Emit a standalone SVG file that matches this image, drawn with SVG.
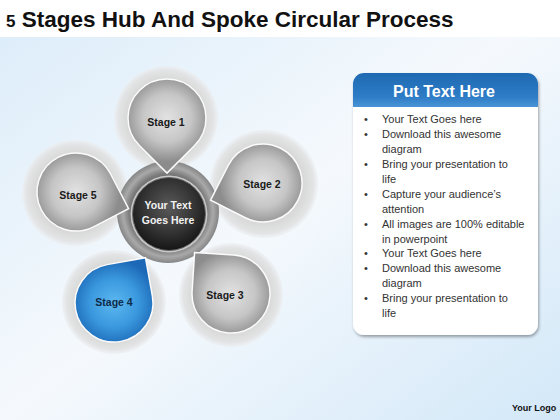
<svg xmlns="http://www.w3.org/2000/svg" width="560" height="420" viewBox="0 0 560 420">
  <defs>
    <linearGradient id="bg" x1="0" y1="0" x2="1" y2="1">
      <stop offset="0" stop-color="#dbecf9"/>
      <stop offset="0.5" stop-color="#f5f9fd"/>
      <stop offset="1" stop-color="#d3e8f8"/>
    </linearGradient>
    <radialGradient id="halo" cx="0.5" cy="0.5" r="0.5">
      <stop offset="0" stop-color="#d4d4d4"/>
      <stop offset="0.75" stop-color="#d9d9d9"/>
      <stop offset="0.92" stop-color="#e3e4e5"/>
      <stop offset="1" stop-color="#eceef0" stop-opacity="0.6"/>
    </radialGradient>
    <radialGradient id="gray" gradientUnits="userSpaceOnUse" cx="0" cy="0" r="44">
      <stop offset="0" stop-color="#e2e2e2"/>
      <stop offset="0.55" stop-color="#c6c6c6"/>
      <stop offset="1" stop-color="#8c8c8c"/>
    </radialGradient>
    <radialGradient id="blue" gradientUnits="userSpaceOnUse" cx="0" cy="0" r="44">
      <stop offset="0" stop-color="#5db8f0"/>
      <stop offset="0.55" stop-color="#3a98de"/>
      <stop offset="1" stop-color="#1c68b6"/>
    </radialGradient>
    <radialGradient id="ring" cx="0.5" cy="0.5" r="0.5">
      <stop offset="0.6" stop-color="#5e5e5e"/>
      <stop offset="0.76" stop-color="#7c7c7c"/>
      <stop offset="0.88" stop-color="#a9a9a9"/>
      <stop offset="1" stop-color="#858585"/>
    </radialGradient>
    <radialGradient id="core" cx="0.5" cy="0.4" r="0.6">
      <stop offset="0" stop-color="#5a5a5a"/>
      <stop offset="0.6" stop-color="#333333"/>
      <stop offset="1" stop-color="#151515"/>
    </radialGradient>
    <linearGradient id="hdr" x1="0" y1="0" x2="0" y2="1">
      <stop offset="0" stop-color="#1e6ab2"/>
      <stop offset="0.7" stop-color="#2d7cc6"/>
      <stop offset="1" stop-color="#4a94d6"/>
    </linearGradient>
    <filter id="shadow" x="-10%" y="-10%" width="120%" height="120%">
      <feDropShadow dx="1" dy="2" stdDeviation="1.5" flood-color="#000" flood-opacity="0.35"/>
    </filter>
    <path id="drop" d="M-39,0 A39,39 0 0 1 0,-39 L39,-39 L39,0 A39,39 0 0 1 0,39 A39,39 0 0 1 -39,0 Z"/>
  </defs>
  <style>
    .title{font-family:"Liberation Sans",Arial,sans-serif;font-weight:bold;font-size:22.5px;fill:#111}
    .lbl{font-family:"Liberation Sans",Arial,sans-serif;font-weight:bold;font-size:10.5px;fill:#1a1a1a;text-anchor:middle}
    .lbl4{fill:#0d2a4a}
    .hub{font-family:"Liberation Sans",Arial,sans-serif;font-weight:bold;font-size:10.5px;fill:#f2f2f2;text-anchor:middle}
    .body{font-family:"Liberation Sans",Arial,sans-serif;font-size:11px;fill:#333}
    .head{font-family:"Liberation Sans",Arial,sans-serif;font-weight:bold;font-size:16px;fill:#fff;text-anchor:middle}
    .logo{font-family:"Liberation Sans",Arial,sans-serif;font-weight:bold;font-size:9px;fill:#111}
    .petal{stroke:#fbfbfb;stroke-width:1.5}
  </style>

  <rect x="0" y="0" width="560" height="420" fill="url(#bg)"/>
  <rect x="0" y="0" width="560" height="37" fill="#ffffff"/>

  <text class="title" x="6" y="27"><tspan font-size="17">5</tspan> Stages Hub And Spoke Circular Process</text>

  <g id="halos">
    <circle cx="166" cy="118" r="52" fill="url(#halo)"/>
    <circle cx="264" cy="184" r="54" fill="url(#halo)"/>
    <circle cx="231" cy="295" r="52" fill="url(#halo)"/>
    <circle cx="114" cy="302" r="52" fill="url(#halo)"/>
    <circle cx="75" cy="193" r="53" fill="url(#halo)"/>
  </g>

  <g id="hub-ring">
    <circle cx="168" cy="212" r="51" fill="url(#ring)"/>
  </g>

  <g id="connectors"/>

  <g id="stage1">
    <use href="#drop" class="petal" fill="url(#gray)" transform="translate(167,118) rotate(135)"/>
    <text class="lbl" x="166" y="126">Stage 1</text>
  </g>
  <g id="stage2">
    <use href="#drop" class="petal" fill="url(#gray)" transform="translate(263,183) rotate(206.9)"/>
    <text class="lbl" x="262" y="188">Stage 2</text>
  </g>
  <g id="stage3">
    <use href="#drop" class="petal" fill="url(#gray)" transform="translate(231,294) rotate(-86.3)"/>
    <text class="lbl" x="225" y="299">Stage 3</text>
  </g>
  <g id="stage4">
    <use href="#drop" class="petal" fill="url(#blue)" transform="translate(114,303) rotate(-10.2)"/>
    <text class="lbl lbl4" x="114" y="306">Stage 4</text>
  </g>
  <g id="stage5">
    <use href="#drop" class="petal" fill="url(#gray)" transform="translate(76,192) rotate(62.5)"/>
    <text class="lbl" x="78" y="199">Stage 5</text>
  </g>

  <g id="hub">
    <circle cx="169" cy="214" r="38.5" fill="#c9c9c9"/>
    <circle cx="169" cy="214" r="36.5" fill="url(#core)" stroke="#6a6a6a" stroke-width="1"/>
    <text class="hub" x="168" y="209">Your Text</text>
    <text class="hub" x="168" y="224">Goes Here</text>
  </g>

  <g id="panel">
    <rect x="353" y="73" width="185" height="262" rx="11" fill="#ffffff" filter="url(#shadow)"/>
    <path d="M353,107 L353,84 A11,11 0 0 1 364,73 L527,73 A11,11 0 0 1 538,84 L538,107 Z" fill="url(#hdr)"/>
    <text class="head" x="444" y="97">Put Text Here</text>
    <g class="body">
      <text x="364" y="122.5">•</text><text x="382" y="122.5">Your Text Goes here</text>
      <text x="364" y="137.5">•</text><text x="382" y="137.5">Download this awesome</text>
      <text x="382" y="152.5">diagram</text>
      <text x="364" y="167.5">•</text><text x="382" y="167.5">Bring your presentation to</text>
      <text x="382" y="182.5">life</text>
      <text x="364" y="197.5">•</text><text x="382" y="197.5">Capture your audience’s</text>
      <text x="382" y="212.5">attention</text>
      <text x="364" y="227.5">•</text><text x="382" y="227.5">All images are 100% editable</text>
      <text x="382" y="242.5">in powerpoint</text>
      <text x="364" y="257">•</text><text x="382" y="257">Your Text Goes here</text>
      <text x="364" y="272">•</text><text x="382" y="272">Download this awesome</text>
      <text x="382" y="287">diagram</text>
      <text x="364" y="302">•</text><text x="382" y="302">Bring your presentation to</text>
      <text x="382" y="317">life</text>
    </g>
  </g>

  <text class="logo" x="512" y="411">Your Logo</text>
</svg>
